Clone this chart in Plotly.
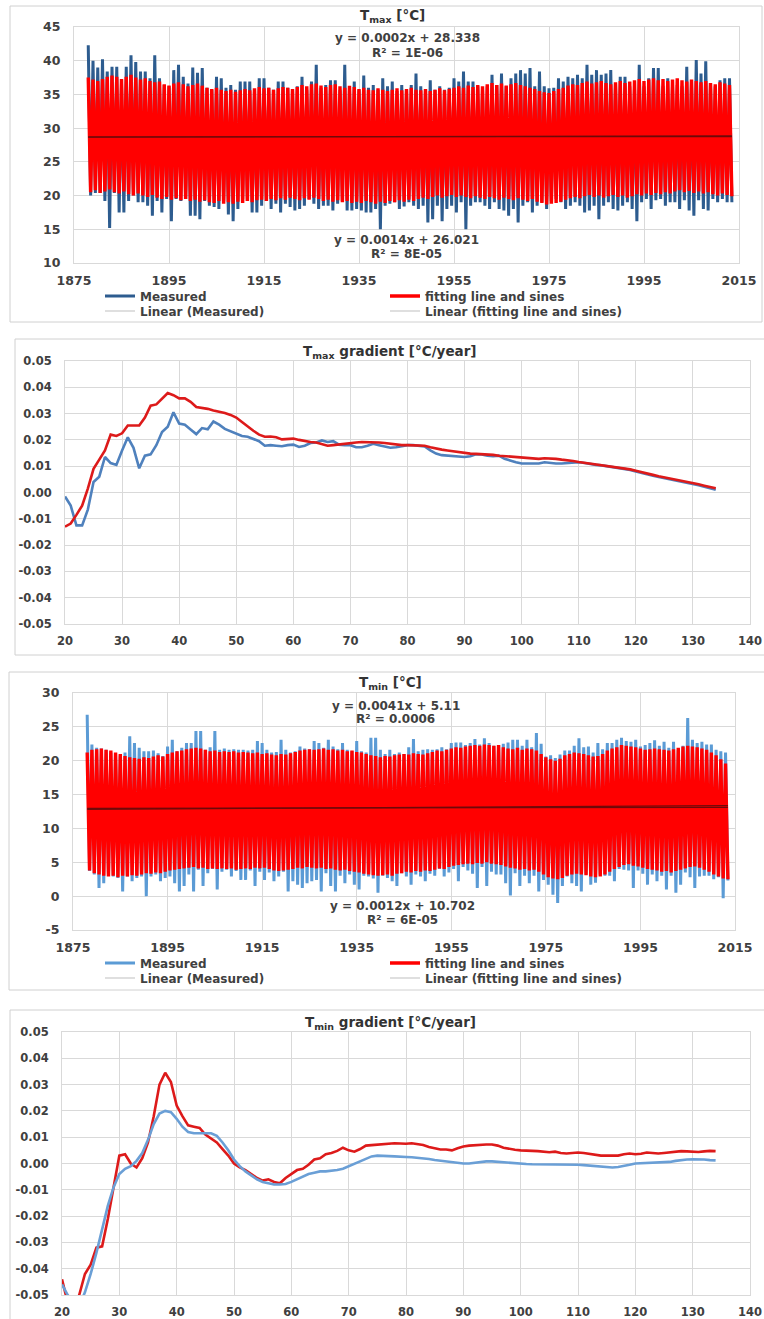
import plotly.graph_objects as go

W, H = 764, 1319

# ---------------- data ----------------
years = list(range(1878, 2014))

tmax_meas_hi = [
    42.3, 40.0, 39.0, 40.2, 38.4, 39.1, 39.1, 36.7, 39.1, 40.8,
    39.8, 38.4, 38.4, 37.4, 40.8, 37.4, 36.4, 36.2, 38.6, 39.4,
    37.6, 36.6, 39.0, 38.2, 38.9, 36.0, 35.7, 37.6, 37.4, 36.0,
    36.4, 35.7, 36.9, 36.9, 36.9, 35.7, 37.4, 37.4, 36.0, 35.7,
    36.9, 36.9, 36.0, 35.7, 36.2, 37.6, 35.7, 36.9, 39.4, 36.0,
    36.4, 37.1, 37.1, 35.7, 39.4, 35.7, 36.9, 35.7, 37.8, 36.0,
    36.4, 35.7, 37.4, 36.2, 36.9, 35.5, 36.4, 35.8, 36.4, 38.1,
    36.2, 35.8, 37.1, 35.7, 36.2, 35.7, 36.0, 37.4, 36.9, 38.4,
    36.9, 36.9, 36.2, 35.7, 36.2, 37.9, 36.4, 38.1, 36.2, 37.4,
    38.1, 38.6, 38.1, 38.9, 36.2, 38.4, 36.2, 35.9, 36.0, 37.4,
    36.9, 37.6, 37.4, 37.9, 37.4, 39.4, 37.9, 38.6, 37.9, 38.1,
    38.6, 36.7, 37.6, 37.6, 36.2, 35.9, 39.4, 36.2, 37.4, 38.9,
    38.9, 36.2, 37.4, 36.4, 36.4, 36.2, 39.1, 36.9, 40.1, 38.1,
    39.9, 36.7, 36.2, 37.1, 37.4, 37.4,
]
tmax_meas_lo = [
    20.0, 20.4, 20.4, 19.2, 15.2, 20.4, 17.5, 17.5, 19.2, 20.0,
    19.0, 19.0, 18.5, 17.0, 19.2, 17.5, 19.5, 16.2, 19.5, 19.2,
    19.5, 17.0, 17.0, 16.5, 19.2, 18.5, 18.3, 18.0, 19.2, 17.2,
    16.2, 18.0, 19.5, 19.2, 17.5, 17.5, 18.5, 19.2, 18.0, 18.8,
    17.5, 18.8, 18.3, 17.8, 18.0, 18.5, 19.5, 18.8, 18.0, 18.5,
    18.5, 17.8, 18.8, 19.2, 17.8, 17.8, 18.0, 17.8, 17.5, 17.5,
    18.0, 15.0, 18.5, 18.8, 19.0, 18.0, 18.4, 19.0, 18.5, 18.0,
    18.5, 16.0, 16.5, 18.5, 16.2, 18.0, 18.5, 17.5, 19.0, 15.0,
    18.5, 19.0, 19.0, 18.5, 18.0, 19.0, 18.0, 17.8, 17.0, 18.0,
    16.0, 18.5, 19.0, 17.5, 18.5, 19.0, 18.0, 19.2, 19.5, 19.0,
    18.0, 18.5, 19.0, 18.5, 17.5, 17.8, 18.5, 16.5, 18.5, 19.0,
    18.0, 17.8, 18.5, 19.0, 18.0, 16.2, 19.0, 19.5, 18.0, 19.3,
    19.5, 18.5, 19.0, 19.0, 18.0, 19.3, 17.8, 17.0, 19.3, 18.0,
    17.8, 19.5, 19.0, 19.5, 19.0, 19.0,
]
tmax_fit_hi = [
    37.5, 37.2, 37.0, 37.3, 37.6, 37.8, 37.6, 37.3, 37.6, 37.9,
    37.5, 37.2, 37.4, 37.0, 36.8, 36.9, 36.5, 36.3, 36.6, 36.8,
    36.5, 36.2, 36.4, 36.6, 36.3, 36.0, 35.8, 36.0, 35.7, 35.5,
    35.7, 35.4, 35.6, 35.8, 35.6, 35.9, 36.1, 35.9, 36.0, 35.7,
    35.9, 36.1, 36.0, 35.8, 36.1, 36.4, 36.2, 36.5, 36.6, 36.3,
    36.1, 36.4, 36.5, 36.2, 36.0, 36.3, 36.1, 35.8, 36.0, 35.7,
    35.6, 35.9, 35.7, 35.5, 35.7, 35.9, 35.6, 35.8, 36.0, 35.7,
    35.6, 35.8, 35.5, 35.7, 35.9, 35.6, 35.8, 36.0, 36.2, 36.0,
    36.3, 36.1, 36.4, 36.2, 36.5, 36.7, 36.4, 36.6, 36.3, 36.5,
    36.7, 36.4, 36.2, 36.0, 35.8, 35.5, 35.3, 35.2, 35.5, 35.8,
    36.0, 36.3, 36.5, 36.4, 36.7, 36.9, 36.6, 36.8, 37.0, 36.7,
    36.5, 36.8, 37.0, 36.7, 36.9, 37.1, 37.3, 37.0, 37.2, 37.4,
    37.1, 37.3, 37.0, 37.2, 37.4, 37.1, 36.9, 37.2, 37.0, 36.8,
    37.0, 36.7, 36.5, 36.8, 36.6, 36.4,
]
tmax_fit_lo = [
    20.5, 20.8, 20.4, 20.6, 20.9, 20.5, 20.3, 20.6, 20.2, 20.0,
    20.3, 20.0, 19.8, 20.1, 19.7, 19.5, 19.8, 19.4, 19.6, 19.3,
    19.5, 19.2, 19.4, 19.1, 19.3, 19.0, 18.9, 19.2, 18.8, 19.0,
    18.8, 19.1, 18.9, 19.2, 19.0, 19.3, 19.4, 19.2, 19.5, 19.3,
    19.6, 19.4, 19.7, 19.5, 19.3, 19.6, 19.4, 19.7, 19.5, 19.2,
    19.4, 19.1, 19.3, 19.0, 19.2, 18.9, 19.1, 18.9, 19.2, 19.0,
    18.8, 19.1, 18.9, 19.2, 19.0, 19.3, 19.1, 19.4, 19.2, 19.5,
    19.7, 19.5, 19.8, 20.0, 19.7, 19.9, 20.1, 19.8, 20.0, 19.8,
    19.6, 19.9, 19.7, 19.5, 19.8, 19.6, 19.4, 19.7, 19.5, 19.3,
    19.6, 19.4, 19.2, 19.5, 19.1, 18.9, 18.7, 18.8, 18.9, 19.1,
    19.4, 19.6, 19.8, 19.6, 19.9, 20.1, 19.8, 20.0, 19.7, 19.9,
    20.1, 19.8, 20.0, 19.7, 19.9, 20.2, 20.0, 20.3, 20.1, 20.4,
    20.2, 20.5, 20.3, 20.6, 20.8, 20.5, 20.7, 20.4, 20.6, 20.3,
    20.5, 20.2, 20.0, 20.3, 20.1, 19.9,
]

tmin_meas_hi = [
    26.8, 22.4, 21.9, 21.8, 21.6, 21.2, 21.0, 20.8, 21.2, 23.6,
    22.6, 21.9, 21.4, 21.4, 21.5, 21.1, 20.7, 22.1, 23.1, 21.4,
    21.9, 22.6, 22.6, 24.4, 24.4, 21.6, 22.0, 24.4, 21.6, 21.8,
    21.6, 21.7, 21.6, 21.6, 21.5, 21.6, 22.9, 22.6, 21.6, 21.2,
    21.3, 23.1, 21.6, 21.2, 21.4, 22.1, 21.8, 21.7, 22.9, 22.6,
    21.9, 23.1, 22.1, 21.7, 22.6, 21.6, 21.4, 22.9, 21.4, 21.2,
    23.4, 23.4, 21.6, 21.0, 21.6, 21.0, 21.2, 21.0, 22.0, 23.2,
    21.4, 21.6, 21.7, 21.6, 21.7, 22.0, 21.7, 22.6, 22.7, 22.7,
    22.3, 22.6, 23.2, 22.4, 23.3, 22.6, 22.2, 22.3, 22.5, 22.7,
    23.1, 23.1, 22.2, 23.1, 22.0, 24.1, 22.5, 20.6, 20.8, 20.4,
    20.9, 21.5, 21.5, 22.2, 23.3, 22.0, 22.1, 21.2, 22.6, 21.7,
    22.6, 22.6, 23.1, 23.4, 22.9, 22.8, 23.1, 22.1, 22.3, 22.6,
    23.0, 22.2, 22.8, 21.9, 22.8, 21.6, 22.2, 26.3, 23.1, 22.6,
    22.8, 22.4, 22.4, 21.6, 21.4, 21.2,
]
tmin_meas_lo = [
    3.7, 3.2, 1.2, 1.9, 3.2, 2.9, 2.7, 0.7, 2.9, 2.2,
    2.7, 2.9, 0.0, 2.9, 3.2, 2.2, 2.7, 2.9, 1.9, 0.7,
    1.5, 3.2, 0.7, 3.9, 1.5, 3.4, 4.0, 1.0, 3.6, 3.9,
    2.9, 3.7, 2.4, 2.4, 3.8, 1.5, 3.6, 2.4, 3.5, 2.2,
    2.9, 3.6, 0.7, 2.2, 1.7, 1.2, 1.9, 2.2, 2.4, 0.7,
    3.4, 1.5, 0.7, 3.0, 1.9, 3.2, 1.7, 1.0, 3.0, 2.9,
    2.6, 0.5, 3.0, 2.7, 2.2, 1.5, 3.4, 2.9, 1.7, 3.2,
    2.9, 2.2, 3.3, 3.0, 4.0, 2.9, 3.5, 4.0, 2.2, 4.3,
    3.8, 3.3, 1.2, 4.3, 1.5, 3.6, 3.2, 3.2, 1.9, 0.1,
    3.4, 1.5, 3.0, 1.9, 3.0, 0.7, 2.4, 1.7, 0.2, -1.0,
    1.5, 2.9, 1.9, 1.5, 0.7, 3.2, 1.7, 2.0, 3.2, 3.0,
    3.0, 2.2, 4.0, 3.9, 3.8, 1.2, 3.8, 3.3, 1.7, 3.2,
    2.2, 3.0, 1.0, 3.0, 0.5, 1.7, 3.5, 2.8, 1.2, 2.9,
    3.0, 3.0, 2.5, 2.8, -0.3, 2.3,
]
tmin_fit_hi = [
    21.2, 21.6, 21.7, 21.8, 21.6, 21.5, 21.2, 21.0, 20.7, 20.5,
    20.4, 20.3, 20.5, 20.4, 20.6, 20.8, 20.6, 21.0, 21.2, 21.4,
    21.5, 21.7, 21.8, 21.9, 21.8, 21.6, 21.4, 21.5, 21.3, 21.4,
    21.3, 21.4, 21.2, 21.3, 21.2, 21.1, 21.2, 21.0, 21.1, 20.9,
    20.8, 21.0, 20.9, 21.1, 21.3, 21.5, 21.6, 21.7, 21.6, 21.7,
    21.8, 21.6, 21.7, 21.5, 21.6, 21.4, 21.5, 21.3, 21.2, 21.0,
    20.8, 20.7, 20.5, 20.7, 20.6, 20.8, 20.9, 21.0, 20.9, 21.1,
    21.0, 20.9, 21.1, 21.3, 21.5, 21.4, 21.6, 21.8, 22.0, 21.9,
    22.1, 22.2, 22.3, 22.2, 22.4, 22.3, 22.2, 22.3, 22.0, 21.8,
    21.7, 21.9, 21.6, 21.8, 21.7, 21.5, 21.0, 20.5, 20.2, 20.0,
    20.3, 20.8, 21.0, 21.2, 21.1, 21.0, 20.8, 20.6, 20.7, 21.0,
    21.5, 21.8, 22.0, 22.3, 22.2, 22.1, 22.0, 21.8, 21.6, 21.7,
    21.8, 21.7, 21.6, 21.5, 21.7, 21.9, 22.1, 22.2, 22.1, 22.0,
    21.8, 21.6, 21.2, 20.8, 20.2, 19.6,
]
tmin_fit_lo = [
    3.8, 3.4, 3.2, 3.0, 2.9, 3.0, 2.8, 3.0, 2.9, 3.1,
    3.0, 3.2, 3.4, 3.3, 3.5, 3.4, 3.6, 3.8, 3.9, 4.0,
    4.1, 4.2, 4.3, 4.1, 4.2, 4.0, 4.1, 4.0, 4.1, 4.0,
    4.1, 3.9, 4.0, 4.1, 4.0, 4.2, 4.1, 4.2, 4.0, 3.8,
    3.7, 3.8, 3.9, 4.0, 4.2, 4.1, 4.3, 4.2, 4.1, 4.2,
    4.0, 4.1, 3.9, 3.8, 3.9, 3.7, 3.6, 3.5, 3.3, 3.2,
    3.1, 3.0, 3.1, 3.2, 3.0, 3.3, 3.4, 3.6, 3.5, 3.7,
    3.6, 3.8, 3.7, 3.9, 4.1, 4.0, 4.3, 4.5, 4.6, 4.7,
    4.8, 4.7, 4.9, 4.8, 5.0, 4.8, 4.7, 4.6, 4.4, 4.2,
    4.1, 3.9, 4.0, 3.8, 3.9, 3.6, 3.2, 2.8, 2.6, 2.5,
    2.7, 3.0, 3.2, 3.3, 3.2, 3.1, 2.9, 2.8, 2.9, 3.2,
    3.6, 4.0, 4.3, 4.6, 4.7, 4.5, 4.4, 4.2, 4.0, 3.9,
    3.8, 3.6, 3.7, 3.5, 3.7, 3.9, 4.1, 4.3, 4.4, 4.2,
    3.9, 3.6, 3.2, 2.9, 2.6, 2.5,
]

# trend-line equations printed on the charts (slope, intercept)
tmax_trend_meas = (0.0002, 28.338)
tmax_trend_fit = (0.0014, 26.021)
tmin_trend_meas = (0.0041, 5.11)
tmin_trend_fit = (0.0012, 10.702)

# gradients
grad_x = list(range(20, 135))
tmax_grad_meas = [
    -0.0015, -0.0050, -0.0125, -0.0125, -0.0065, 0.0040, 0.0060, 0.0135, 0.0112, 0.0105,
    0.0160, 0.0210, 0.0170, 0.0092, 0.0140, 0.0145, 0.0180, 0.0230, 0.0250, 0.0305,
    0.0262, 0.0258, 0.0240, 0.0222, 0.0245, 0.0240, 0.0270, 0.0258, 0.0242, 0.0232,
    0.0225, 0.0215, 0.0212, 0.0205, 0.0195, 0.0178, 0.0180, 0.0178, 0.0176, 0.0180,
    0.0182, 0.0173, 0.0178, 0.0188, 0.0190, 0.0198, 0.0192, 0.0195, 0.0182, 0.0180,
    0.0180, 0.0172, 0.0172, 0.0178, 0.0185, 0.0180, 0.0175, 0.0170, 0.0172, 0.0175,
    0.0180, 0.0180, 0.0178, 0.0175, 0.0160, 0.0148, 0.0142, 0.0140, 0.0138, 0.0135,
    0.0135, 0.0138, 0.0145, 0.0145, 0.0140, 0.0138, 0.0140, 0.0128, 0.0120, 0.0115,
    0.0110, 0.0110, 0.0108, 0.0110, 0.0115, 0.0112, 0.0110, 0.0110, 0.0112, 0.0115,
    0.0115, 0.0112, 0.0108, 0.0105, 0.0103, 0.0100, 0.0097, 0.0094, 0.0090, 0.0086,
    0.0080, 0.0074, 0.0069, 0.0064, 0.0059, 0.0055, 0.0050, 0.0046, 0.0042, 0.0038,
    0.0033, 0.0028, 0.0022, 0.0016, 0.0010,
]
tmax_grad_fit = [
    -0.0130, -0.0118, -0.0085, -0.0050, 0.0015, 0.0090, 0.0125, 0.0160, 0.0220, 0.0215,
    0.0225, 0.0255, 0.0255, 0.0255, 0.0285, 0.0330, 0.0335, 0.0355, 0.0378, 0.0370,
    0.0358, 0.0358, 0.0345, 0.0325, 0.0322, 0.0318, 0.0312, 0.0308, 0.0302, 0.0295,
    0.0285, 0.0268, 0.0250, 0.0235, 0.0220, 0.0212, 0.0213, 0.0210, 0.0202, 0.0203,
    0.0205, 0.0200, 0.0195, 0.0192, 0.0190, 0.0185, 0.0178, 0.0180, 0.0183, 0.0185,
    0.0187, 0.0190, 0.0192, 0.0192, 0.0192, 0.0190, 0.0188, 0.0185, 0.0182, 0.0180,
    0.0180, 0.0180, 0.0180, 0.0178, 0.0172, 0.0167, 0.0163, 0.0160, 0.0157, 0.0153,
    0.0150, 0.0148, 0.0147, 0.0146, 0.0145, 0.0143, 0.0140, 0.0138, 0.0136, 0.0134,
    0.0133, 0.0131, 0.0130, 0.0128, 0.0130, 0.0130, 0.0128, 0.0125, 0.0123, 0.0120,
    0.0116, 0.0113, 0.0110, 0.0107, 0.0104, 0.0102, 0.0099, 0.0096, 0.0092, 0.0088,
    0.0083, 0.0077, 0.0072, 0.0067, 0.0062, 0.0058, 0.0053, 0.0049, 0.0045, 0.0041,
    0.0036, 0.0031, 0.0026, 0.0021, 0.0016,
]
tmin_grad_meas = [
    -0.0460, -0.0500, -0.0530, -0.0540, -0.0490, -0.0420, -0.0340, -0.0250, -0.0160, -0.0090,
    -0.0040, -0.0020, -0.0010, 0.0010, 0.0040, 0.0090, 0.0150, 0.0190, 0.0200, 0.0195,
    0.0170, 0.0140, 0.0120, 0.0115, 0.0115, 0.0115, 0.0115, 0.0105, 0.0080, 0.0050,
    0.0015, -0.0010, -0.0030, -0.0045, -0.0060, -0.0070, -0.0075, -0.0080, -0.0080, -0.0078,
    -0.0070, -0.0060, -0.0050, -0.0040, -0.0035, -0.0030, -0.0030, -0.0028, -0.0025, -0.0020,
    -0.0010, 0.0000, 0.0010, 0.0020, 0.0027, 0.0030, 0.0030, 0.0028, 0.0027, 0.0025,
    0.0025, 0.0024, 0.0022, 0.0020, 0.0017, 0.0013, 0.0010, 0.0007, 0.0004, 0.0002,
    0.0000, 0.0000, 0.0003, 0.0006, 0.0008, 0.0008, 0.0006, 0.0004, 0.0002, 0.0000,
    -0.0002, -0.0002, -0.0003, -0.0003, -0.0003, -0.0004, -0.0004, -0.0005, -0.0005, -0.0005,
    -0.0005, -0.0006, -0.0008, -0.0010, -0.0013, -0.0015, -0.0015, -0.0013, -0.0010, -0.0005,
    0.0000, 0.0001, 0.0002, 0.0002, 0.0003, 0.0004, 0.0006, 0.0010, 0.0013, 0.0015,
    0.0016, 0.0016, 0.0015, 0.0013, 0.0012,
]
tmin_grad_fit = [
    -0.0440, -0.0530, -0.0560, -0.0500, -0.0420, -0.0385, -0.0320, -0.0315, -0.0210, -0.0095,
    0.0030, 0.0035, 0.0000, -0.0015, 0.0020, 0.0080, 0.0180, 0.0300, 0.0345, 0.0310,
    0.0220, 0.0180, 0.0145, 0.0140, 0.0135, 0.0110, 0.0095, 0.0080, 0.0055, 0.0030,
    0.0000, -0.0015, -0.0025, -0.0040, -0.0055, -0.0065, -0.0060, -0.0070, -0.0075, -0.0055,
    -0.0040, -0.0025, -0.0020, -0.0005, 0.0015, 0.0020, 0.0035, 0.0040, 0.0048, 0.0060,
    0.0050, 0.0045, 0.0055, 0.0068, 0.0070, 0.0072, 0.0075, 0.0077, 0.0077, 0.0076,
    0.0075, 0.0077, 0.0073, 0.0070, 0.0063, 0.0058, 0.0053, 0.0053, 0.0050, 0.0058,
    0.0065, 0.0068, 0.0070, 0.0072, 0.0072, 0.0072, 0.0068, 0.0060, 0.0055, 0.0052,
    0.0050, 0.0050, 0.0048, 0.0047, 0.0045, 0.0043, 0.0045, 0.0040, 0.0038, 0.0040,
    0.0042, 0.0040, 0.0037, 0.0032, 0.0030, 0.0030, 0.0031, 0.0030, 0.0035, 0.0038,
    0.0035, 0.0037, 0.0042, 0.0040, 0.0038, 0.0040, 0.0043, 0.0045, 0.0047, 0.0046,
    0.0045, 0.0044, 0.0046, 0.0048, 0.0047,
]

# tick labels
grad_tickvals = [-0.05, -0.04, -0.03, -0.02, -0.01, 0.0, 0.01, 0.02, 0.03, 0.04, 0.05]
grad_ticktext = ["-0.05", "-0.04", "-0.03", "-0.02", "-0.01", "0.00",
                 "0.01", "0.02", "0.03", "0.04", "0.05"]
tmin_tickvals = [-5, 0, 5, 10, 15, 20, 25, 30]
tmin_ticktext = ["-5", "0", "5", "10", "15", "20", "25", "30"]

for arr in (tmax_meas_hi, tmax_meas_lo, tmax_fit_hi, tmax_fit_lo,
            tmin_meas_hi, tmin_meas_lo, tmin_fit_hi, tmin_fit_lo):
    assert len(arr) == len(years), len(arr)
for arr in (tmax_grad_meas, tmax_grad_fit, tmin_grad_meas, tmin_grad_fit):
    assert len(arr) == len(grad_x), len(arr)

# ---------------- helpers ----------------
def pxx(p):
    return p / W

def pxy(p):
    return 1 - p / H

def zigzag(hi, lo):
    xs, ys = [], []
    for yr, h, l in zip(years, hi, lo):
        xs += [yr, yr + 0.5]
        ys += [h, l]
    return xs, ys

def trend(coef):
    xs = [years[0], years[-1] + 0.5]
    return xs, [coef[0] * x + coef[1] for x in xs]

FONT = "DejaVu Sans"
TXT = "#404040"
RED = "#ff0000"
TREND = "#6e0a0a"

fig = go.Figure()

# ---- panel 1 : Tmax ----
x, y = zigzag(tmax_meas_hi, tmax_meas_lo)
fig.add_trace(go.Scatter(x=x, y=y, mode="lines", name="Measured",
                         line=dict(color="#2d5c8f", width=3),
                         xaxis="x", yaxis="y", legend="legend"))
x, y = zigzag(tmax_fit_hi, tmax_fit_lo)
fig.add_trace(go.Scatter(x=x, y=y, mode="lines", name="fitting line and sines",
                         line=dict(color=RED, width=3.4),
                         xaxis="x", yaxis="y", legend="legend"))
for c in (tmax_trend_meas, tmax_trend_fit):
    tx, ty = trend(c)
    fig.add_trace(go.Scatter(x=tx, y=ty, mode="lines", showlegend=False,
                             line=dict(color=TREND, width=1.2), xaxis="x", yaxis="y"))
for nm in ("Linear (Measured)", "Linear (fitting line and sines)"):
    fig.add_trace(go.Scatter(x=[None], y=[None], mode="lines", name=nm,
                             line=dict(color="#bfbfbf", width=1.2),
                             xaxis="x", yaxis="y", legend="legend2"))

# ---- panel 2 : Tmax gradient ----
fig.add_trace(go.Scatter(x=grad_x, y=tmax_grad_meas, mode="lines", showlegend=False,
                         line=dict(color="#4f81bd", width=2.6), xaxis="x2", yaxis="y2"))
fig.add_trace(go.Scatter(x=grad_x, y=tmax_grad_fit, mode="lines", showlegend=False,
                         line=dict(color="#dd1a1a", width=2.6), xaxis="x2", yaxis="y2"))

# ---- panel 3 : Tmin ----
x, y = zigzag(tmin_meas_hi, tmin_meas_lo)
fig.add_trace(go.Scatter(x=x, y=y, mode="lines", name="Measured",
                         line=dict(color="#5b9bd5", width=3),
                         xaxis="x3", yaxis="y3", legend="legend3"))
x, y = zigzag(tmin_fit_hi, tmin_fit_lo)
fig.add_trace(go.Scatter(x=x, y=y, mode="lines", name="fitting line and sines",
                         line=dict(color=RED, width=3.4),
                         xaxis="x3", yaxis="y3", legend="legend3"))
for c in (tmin_trend_meas, tmin_trend_fit):
    tx, ty = trend(c)
    fig.add_trace(go.Scatter(x=tx, y=ty, mode="lines", showlegend=False,
                             line=dict(color=TREND, width=1.2), xaxis="x3", yaxis="y3"))
for nm in ("Linear (Measured)", "Linear (fitting line and sines)"):
    fig.add_trace(go.Scatter(x=[None], y=[None], mode="lines", name=nm,
                             line=dict(color="#bfbfbf", width=1.2),
                             xaxis="x3", yaxis="y3", legend="legend4"))

# ---- panel 4 : Tmin gradient ----
fig.add_trace(go.Scatter(x=grad_x, y=tmin_grad_fit, mode="lines", showlegend=False,
                         line=dict(color="#dd1a1a", width=2.6), xaxis="x4", yaxis="y4"))
fig.add_trace(go.Scatter(x=grad_x, y=tmin_grad_meas, mode="lines", showlegend=False,
                         line=dict(color="#6a9fd6", width=2.6), xaxis="x4", yaxis="y4"))

# ---------------- layout ----------------
def axis(domain, anchor, size, **kw):
    d = dict(domain=domain, anchor=anchor, showgrid=True, gridcolor="#d9d9d9",
             gridwidth=1, showline=True, linecolor="#d9d9d9", linewidth=1,
             mirror=True, zeroline=False, ticks="", fixedrange=True,
             tickfont=dict(family=FONT, size=size, color=TXT, weight="bold"))
    d.update(kw)
    return d

def legend_row(y_px):
    return dict(orientation="h", x=pxx(100), y=pxy(y_px), xanchor="left", yanchor="middle",
                entrywidth=240, entrywidthmode="pixels", traceorder="normal",
                bgcolor="rgba(0,0,0,0)", itemclick=False, itemdoubleclick=False,
                font=dict(family=FONT, size=12, color=TXT, weight="bold"))

p1x = [pxx(74), pxx(739)]
p1y = [pxy(263), pxy(27)]
p2x = [pxx(65), pxx(750)]
p2y = [pxy(624), pxy(361)]
p3x = [pxx(73), pxx(735)]
p3y = [pxy(930), pxy(693)]
p4x = [pxx(62), pxx(750)]
p4y = [pxy(1295), pxy(1032)]

fig.update_layout(
    width=W, height=H, margin=dict(l=0, r=0, t=0, b=0, autoexpand=False),
    paper_bgcolor="white", plot_bgcolor="white",
    font=dict(family=FONT, color=TXT),
    xaxis=axis(p1x, "y", 12.5, range=[1875, 2015], tick0=1875, dtick=20, ticklabelstandoff=6),
    yaxis=axis(p1y, "x", 12.5, range=[10, 45], dtick=5, ticklabelstandoff=10),
    xaxis2=axis(p2x, "y2", 11.5, range=[20, 140], dtick=10, ticklabelstandoff=6),
    yaxis2=axis(p2y, "x2", 11.5, range=[-0.05, 0.05], tickvals=grad_tickvals,
                ticktext=grad_ticktext, ticklabelstandoff=10),
    xaxis3=axis(p3x, "y3", 12.5, range=[1875, 2015], tick0=1875, dtick=20, ticklabelstandoff=6),
    yaxis3=axis(p3y, "x3", 12.5, range=[-5, 30], tickvals=tmin_tickvals,
                ticktext=tmin_ticktext, ticklabelstandoff=10),
    xaxis4=axis(p4x, "y4", 11.5, range=[20, 140], dtick=10, ticklabelstandoff=6),
    yaxis4=axis(p4y, "x4", 11.5, range=[-0.05, 0.05], tickvals=grad_tickvals,
                ticktext=grad_ticktext, ticklabelstandoff=10),
    legend=legend_row(296),
    legend2=legend_row(311),
    legend3=legend_row(963),
    legend4=legend_row(978),
)

# chart frames
frames = [(10, 6, 762, 322), (15, 339, 770, 655), (9, 672, 770, 990), (10, 1010, 770, 1330)]
for x0, y0, x1, y1 in frames:
    fig.add_shape(type="rect", xref="paper", yref="paper",
                  x0=pxx(x0), x1=pxx(x1), y0=pxy(y1), y1=pxy(y0),
                  line=dict(color="#d0d0d0", width=1), fillcolor="rgba(0,0,0,0)", layer="below")

# titles
titles = [("T<sub>max</sub> [°C]", 392, 16), ("T<sub>max</sub> gradient [°C/year]", 390, 352),
          ("T<sub>min</sub> [°C]", 390, 683), ("T<sub>min</sub> gradient [°C/year]", 390, 1023)]
for t, cx, cy in titles:
    fig.add_annotation(text=t, xref="paper", yref="paper", x=pxx(cx), y=pxy(cy),
                       xanchor="center", yanchor="middle", showarrow=False,
                       font=dict(family=FONT, size=13.5, color="#333333", weight="bold"))

# trend-line equations
eqs = [
    ("x", "y", 1945.3, 43.37, "y = %.4fx + %.3f" % tmax_trend_meas),
    ("x", "y", 1945.3, 41.14, "R² = 1E-06"),
    ("x", "y", 1945.1, 13.41, "y = %.4fx + %.3f" % tmax_trend_fit),
    ("x", "y", 1945.1, 11.34, "R² = 8E-05"),
    ("x3", "y3", 1943.3, 28.08, "y = %.4fx + %.2f" % tmin_trend_meas),
    ("x3", "y3", 1943.3, 26.1, "R² = 0.0006"),
    ("x3", "y3", 1944.6, -1.46, "y = %.4fx + %.3f" % tmin_trend_fit),
    ("x3", "y3", 1944.6, -3.5, "R² = 6E-05"),
]
for xr, yr, ex, ey, t in eqs:
    fig.add_annotation(text=t, xref=xr, yref=yr, x=ex, y=ey, showarrow=False,
                       xanchor="center", yanchor="middle",
                       font=dict(family=FONT, size=12, color=TXT, weight="bold"))

fig.write_html("out.html", config={"displayModeBar": False},
               post_script="document.body.style.margin='0';document.body.style.overflow='hidden';")
